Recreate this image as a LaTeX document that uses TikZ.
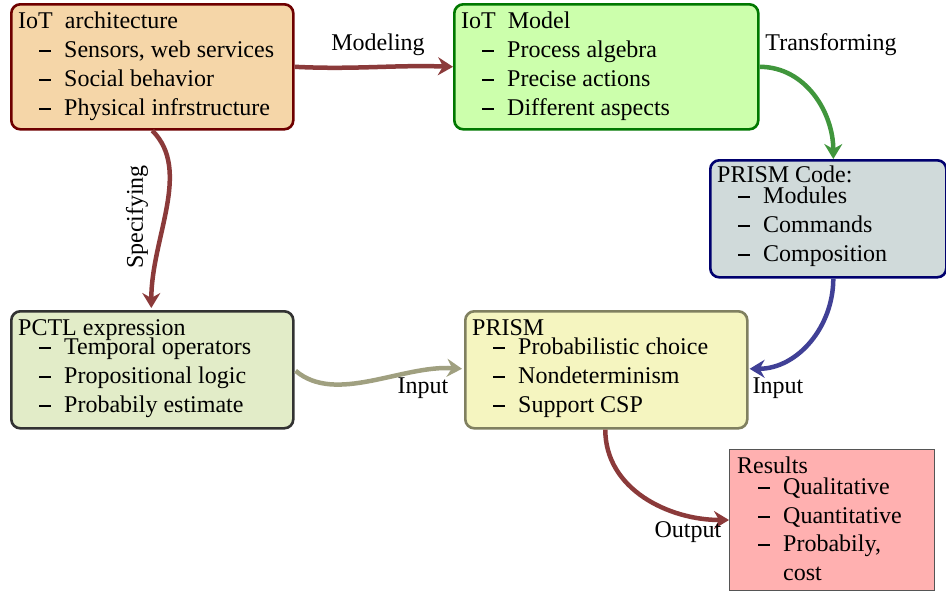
\documentclass[tikz,border=0pt]{standalone}
\usepackage{fontspec}
\setmainfont{Liberation Serif}
\usetikzlibrary{arrows.meta,calc}
\definecolor{fA}{RGB}{245,214,168}\definecolor{dA}{RGB}{110,0,0}
\definecolor{fB}{RGB}{204,255,172}\definecolor{dB}{RGB}{0,120,0}
\definecolor{fC}{RGB}{208,218,218}\definecolor{dC}{RGB}{0,0,110}
\definecolor{fD}{RGB}{226,236,200}\definecolor{dD}{RGB}{50,50,50}
\definecolor{fE}{RGB}{245,245,192}\definecolor{dE}{RGB}{128,128,96}
\definecolor{fF}{RGB}{255,176,176}\definecolor{dF}{RGB}{85,85,85}
\definecolor{aR}{RGB}{139,58,58}\definecolor{aG}{RGB}{64,150,60}
\definecolor{aB}{RGB}{64,64,150}\definecolor{aO}{RGB}{160,160,128}
% #1 name, #2 box, #3 y offset of baseline, #4 text
\newcommand{\btitle}[4]{\node[txt] (#1) at ($(#2.north west)+(8,#3)$) {#4};}
\newcommand{\bitem}[4]{\node[txt] (#1) at ($(#2.north west)+(29,#3)$) {\rule[5.5pt]{12pt}{2pt}\hspace{13pt}#4};}
\newcommand{\bcont}[4]{\node[txt] (#1) at ($(#2.north west)+(54,#3)$) {#4};}
\begin{document}
\begin{tikzpicture}[x=1pt,y=-1pt,
  box/.style={draw,rounded corners=9pt,line width=2.6pt,inner sep=0pt,anchor=north west},
  sqbox/.style={draw,line width=1pt,inner sep=0pt,anchor=north west},
  txt/.style={anchor=base west,inner sep=0pt,font=\rmfamily\fontsize{24}{29}\selectfont},
  conn/.style={line width=4.5pt,-{Stealth[length=15pt,width=18pt,inset=5pt]}},
  lbl/.style={font=\rmfamily\fontsize{24}{29}\selectfont,inner sep=0pt}]
\useasboundingbox (0,0) rectangle (946,592);
% boxes
\node[box,fill=fA,draw=dA,minimum width=282pt,minimum height=125pt] (arch) at (10,3) {};
\node[box,fill=fB,draw=dB,minimum width=304pt,minimum height=125pt] (model) at (453,3) {};
\node[box,fill=fC,draw=dC,minimum width=236pt,minimum height=117pt] (code) at (709,159) {};
\node[box,fill=fD,draw=dD,minimum width=282pt,minimum height=117pt] (pctl) at (10,310) {};
\node[box,fill=fE,draw=dE,minimum width=282pt,minimum height=117pt] (prism) at (464,310) {};
\node[sqbox,fill=fF,draw=dF,minimum width=205pt,minimum height=141pt] (res) at (729,449) {};
% texts
\btitle{archT}{arch}{25}{IoT\hspace{12pt}architecture}
\bitem{archA}{arch}{54}{Sensors, web services}
\bitem{archB}{arch}{83}{Social behavior}
\bitem{archC}{arch}{112}{Physical infrstructure}
\btitle{modelT}{model}{25}{IoT\hspace{12pt}Model}
\bitem{modelA}{model}{54}{Process algebra}
\bitem{modelB}{model}{83}{Precise actions}
\bitem{modelC}{model}{112}{Different aspects}
\btitle{codeT}{code}{23}{PRISM Code:}
\bitem{codeA}{code}{44}{Modules}
\bitem{codeB}{code}{73}{Commands}
\bitem{codeC}{code}{102}{Composition}
\btitle{pctlT}{pctl}{25}{PCTL expression}
\bitem{pctlA}{pctl}{44}{Temporal operators}
\bitem{pctlB}{pctl}{73}{Propositional logic}
\bitem{pctlC}{pctl}{102}{Probabily estimate}
\btitle{prismT}{prism}{25}{PRISM}
\bitem{prismA}{prism}{44}{Probabilistic choice}
\bitem{prismB}{prism}{73}{Nondeterminism}
\bitem{prismC}{prism}{102}{Support CSP}
\btitle{resT}{res}{24}{Results}
\bitem{resA}{res}{45}{Qualitative}
\bitem{resB}{res}{74}{Quantitative}
\bitem{resC}{res}{102}{Probabily,}
\bcont{resD}{res}{131}{cost}
% connectors
\draw[conn,aR] (arch.east) .. controls +(60,3) and +(-60,-2) .. (model.west);
\draw[conn,aG] (model.east) to[out=0,in=90] ($(code.north)+(5,0)$);
\draw[conn,aR] (arch.south) .. controls +(40,40) and +(0,-70) .. ($(pctl.north)+(-1,-2)$);
\draw[conn,aO] ($(pctl.east)+(1,1)$) .. controls +(40,34) and +(-60,-4) .. ($(prism.west)+(-2,-1)$);
\draw[conn,aB] ($(code.south)+(5,0)$) to[out=-90,in=0] ($(prism.east)+(1,-1)$);
\draw[conn,aR] ($(prism.south)+(-1,0)$) to[out=-90,in=180] (res.west);
\node[lbl] (l1) at (378,45) {Modeling};
\node[lbl] (l2) at (831,45) {Transforming};
\node[lbl,rotate=90] (l3) at (137,217) {Specifying};
\node[lbl] (l4) at (423,388) {Input};
\node[lbl] (l5) at (778,388) {Input};
\node[lbl] (l6) at (688,532) {Output};
\end{tikzpicture}
\end{document}
